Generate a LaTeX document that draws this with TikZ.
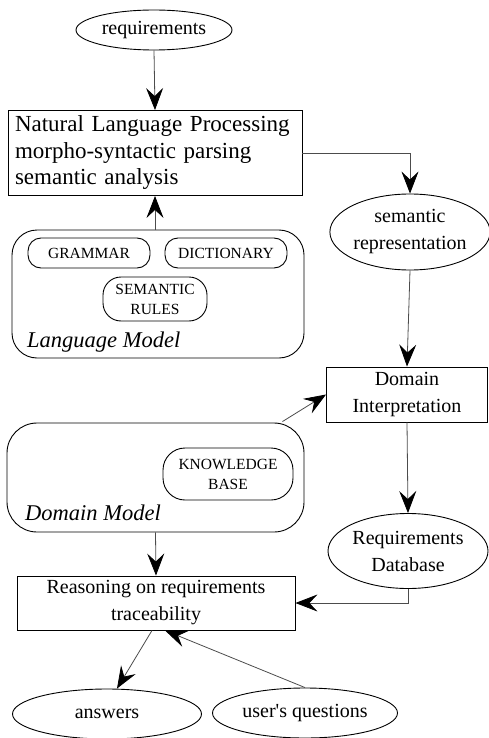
\documentclass[tikz,border=0pt]{standalone}
\usepackage{fontspec}
\setmainfont{Liberation Serif}
\usetikzlibrary{shapes.geometric,arrows.meta,calc}
\tikzset{
  txt/.style={font=\fontsize{20}{27}\selectfont, align=center},
  oval/.style={draw, line width=0.9pt, ellipse, inner sep=0pt, txt},
  boxnode/.style={draw, line width=0.9pt, rectangle, inner sep=0pt, txt},
  modelbox/.style={draw, line width=0.9pt, rectangle, rounded corners=#1, inner sep=0pt},
  pill/.style={draw, line width=0.9pt, rectangle, rounded corners=#1, inner sep=0pt,
    font=\fontsize{15.5}{20}\selectfont, align=center},
  modellabel/.style={font=\fontsize{22.5}{26}\selectfont\itshape, inner sep=0pt, anchor=base west},
  arr/.style={draw=black!70, line width=0.8pt,
    -{Stealth[length=22pt, width=17pt, inset=8pt, color=black]}},
}
\begin{document}
\begin{tikzpicture}[x=1pt, y=-1pt]
\useasboundingbox (0,0) rectangle (488,738);

% input and first processing stage
\node[oval, minimum width=156pt, minimum height=40pt] (req) at (154,30) {requirements};
\node[boxnode, minimum width=294pt, minimum height=85pt, text width=280pt, align=left,
      font=\fontsize{23}{26.5}\selectfont] (nlp) at (155,153)
  {Natural Language Processing\\morpho-syntactic parsing\\semantic analysis};
\node[oval, minimum width=158pt, minimum height=76pt] (sem) at (410,232)
  {semantic\\representation};

% language model
\node[modelbox=25pt, minimum width=292pt, minimum height=128pt] (lm) at (158,294) {};
\node[pill=13pt, minimum width=122pt, minimum height=30pt] (gram) at (89,253) {GRAMMAR};
\node[pill=13pt, minimum width=122pt, minimum height=30pt] (dict) at (226,253) {DICTIONARY};
\node[pill=18pt, minimum width=104pt, minimum height=44pt] (rules) at (155,299) {SEMANTIC\\RULES};
\node[modellabel] (lmlabel) at (27,347) {Language Model};

% domain interpretation
\node[boxnode, minimum width=161pt, minimum height=55pt] (dint) at (407,394.5)
  {Domain\\Interpretation};

% domain model
\node[modelbox=30pt, minimum width=297pt, minimum height=109pt] (dm) at (155.5,477.5) {};
\node[pill=22pt, minimum width=130pt, minimum height=52pt] (kb) at (228,474) {KNOWLEDGE\\BASE};
\node[modellabel] (dmlabel) at (25,520) {Domain Model};

% requirements database and reasoning
\node[oval, minimum width=160pt, minimum height=75pt] (reqdb) at (408,551)
  {Requirements\\Database};
\node[boxnode, minimum width=278pt, minimum height=54pt] (reas) at (156,603)
  {Reasoning on requirements\\traceability};
\node[oval, minimum width=189pt, minimum height=50pt] (ans) at (107,714) {answers};
\node[oval, minimum width=185pt, minimum height=50pt] (uq) at (305,713)
  {user\textquotesingle s questions};

\coordinate (dmout) at ($(dm.north east)+(-22pt,1pt)$);

% connectors
\draw[arr] (req.south) -- (nlp.north);
\draw[arr] (nlp.east) -| (sem.north);
\draw[arr] (nlp.south |- lm.north) -- (nlp.south);
\draw[arr] (sem.south) -- (dint.north);
\draw[arr] (dmout) -- (dint.west);
\draw[arr] (dint.south) -- (reqdb.north);
\draw[arr] (reqdb.south) |- (reas.east);
\draw[arr] (dm.south) -- (reas.north);
\draw[arr] ([xshift=-4pt]reas.south) -- ([xshift=10pt]ans.north);
\draw[arr] (uq.north) -- ([xshift=9pt]reas.south);
\end{tikzpicture}
\end{document}
